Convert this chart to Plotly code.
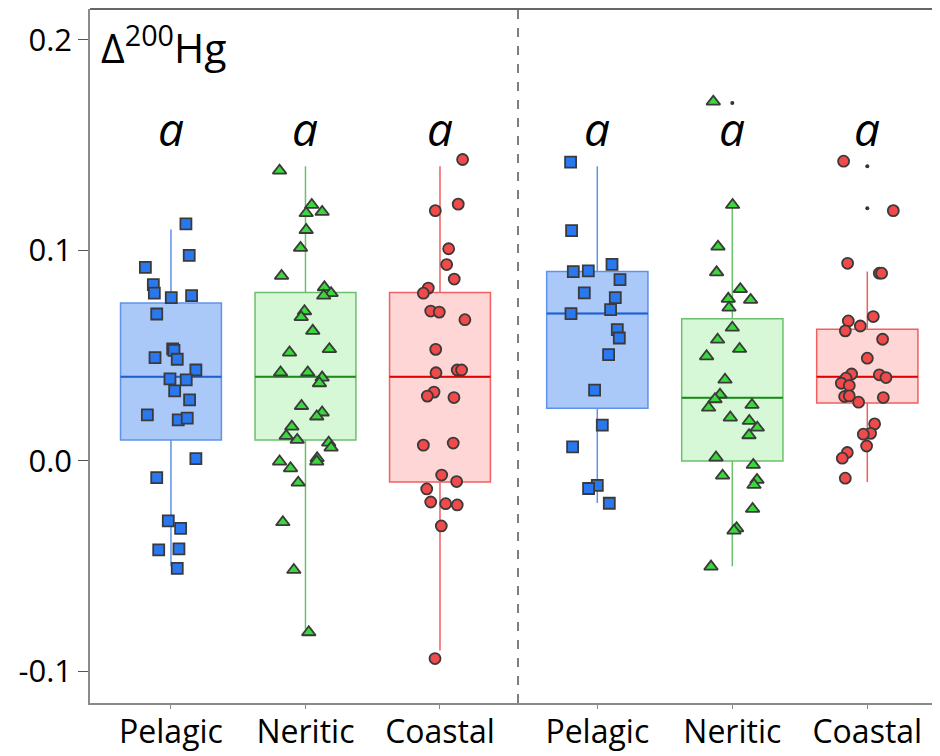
import plotly.graph_objects as go

categories = ["Pelagic", "Neritic", "Coastal"]
group_letters = ["a", "a", "a", "a", "a", "a"]
y_ticks = [-0.1, 0.0, 0.1, 0.2]
y_tick_labels = ["-0.1", "0.0", "0.1", "0.2"]

# ---- panel 1 (left) ----
p1_pelagic = [0.1126, 0.0977, 0.0920, 0.0838, 0.0797, 0.0776, 0.0785, 0.0698, 0.0532, 0.0525,
              0.0483, 0.0491, 0.0432, 0.0390, 0.0385, 0.0333, 0.0290, 0.0219, 0.0195, 0.0203,
              0.0011, -0.0079, -0.0285, -0.0320, -0.0423, -0.0418, -0.0510]
p1_pelagic_jit = [15, 18.3, -25.7, -17.7, -16.7, 0.3, 20.7, -14.3, 1.7, 3,
                  6.3, -16, 25, -1, 15.3, 3.7, 18.7, -23.7, 7.3, 16.3,
                  25, -14.3, -2.7, 9.7, -12.3, 8, 6.3]
p1_neritic = [0.1379, 0.1216, 0.1177, 0.1183, 0.1097, 0.1012, 0.0879, 0.0825, 0.0797, 0.0785,
              0.0711, 0.0683, 0.0618, 0.0515, 0.0531, 0.0420, 0.0420, 0.0396, 0.0369, 0.0261,
              0.0230, 0.0211, 0.0163, 0.0119, 0.0100, 0.0087, 0.0063, -0.0003, -0.0035, 0.0013,
              -0.0003, -0.0103, -0.0291, -0.0518, -0.0814]
p1_neritic_jit = [-26, 6.3, 0.7, 16.7, 0.7, -5, -24, 19, 25.7, 18.3,
                  -1, -4.3, 7.3, -16, 24, -25, 2.3, 16.7, 14, -4,
                  16.7, 11.3, -13.7, -19.3, -8.3, 23.3, 25.7, -26, -15, 11.7,
                  11.3, -7.3, -22.7, -11.7, 3.3]
p1_coastal = [0.1432, 0.1220, 0.1189, 0.1008, 0.0933, 0.0864, 0.0821, 0.0797, 0.0712, 0.0707,
              0.0671, 0.0530, 0.0419, 0.0432, 0.0432, 0.0327, 0.0308, 0.0301, 0.0075, 0.0085,
              -0.0067, -0.0098, -0.0133, -0.0195, -0.0203, -0.0209, -0.0309, -0.0939]
p1_coastal_jit = [22.7, 18.3, -4.7, 8.7, 6.7, 14.3, -11.7, -16.7, -9.3, -0.7,
                  25, -4.3, -4, 17.3, 21.7, -6, -12.7, 14, -16.7, 13.3,
                  1.7, 16.7, -13.3, -9.3, 5.7, 17.3, 1.3, -5]

# ---- panel 2 (right) ----
p2_pelagic = [0.1420, 0.1094, 0.0899, 0.0903, 0.0934, 0.0861, 0.0798, 0.0776, 0.0719, 0.0700,
              0.0624, 0.0584, 0.0505, 0.0336, 0.0170, 0.0067, -0.0116, -0.0131, -0.0201]
p2_pelagic_jit = [-26.7, -25.7, -24, -9, 14.7, 22.7, -13, 18, 13.3, -26.3,
                  20, 22, 11.3, -2.7, 5, -24.7, 0, -8.7, 12]
p2_neritic = [0.1707, 0.1216, 0.1018, 0.0896, 0.0816, 0.0770, 0.0765, 0.0728, 0.0633, 0.0576,
              0.0532, 0.0497, 0.0386, 0.0315, 0.0293, 0.0253, 0.0266, 0.0206, 0.0190, 0.0158,
              0.0122, 0.0016, -0.0019, -0.0070, -0.0090, -0.0114, -0.0228, -0.0320, -0.0331, -0.0502]
p2_neritic_jit = [-19, 0.3, -14.3, -15.7, 8, -4, 18.3, -3.3, 0, -14.7,
                  7.3, -25.7, -7.3, -12.3, -17.3, -23.7, 19.7, -2, 17, 25,
                  16.7, -16.3, 21, -9.7, 24.7, 21.7, 20.3, 4.3, 1.7, -21.3]
p2_coastal = [0.1424, 0.1189, 0.0939, 0.0892, 0.0892, 0.0686, 0.0665, 0.0641, 0.0618, 0.0578,
              0.0488, 0.0413, 0.0409, 0.0396, 0.0393, 0.0369, 0.0358, 0.0306, 0.0309, 0.0301,
              0.0279, 0.0176, 0.0131, 0.0127, 0.0071, 0.0040, 0.0013, -0.0082]
p2_coastal_jit = [-23.7, 26, -19.7, 12, 14.3, 6, -19, -7, -22, 15.3,
                  0, -15.7, 12, 18.7, -21.3, -26, -18, -22.7, -18, 16,
                  -8.7, 7.3, 3.3, -4, -0.7, -20, -25, -22]

# box statistics (Pelagic, Neritic, Coastal)
p1_q1 = [0.010, 0.010, -0.010]
p1_median = [0.040, 0.040, 0.040]
p1_q3 = [0.075, 0.080, 0.080]
p1_lower = [-0.050, -0.080, -0.090]
p1_upper = [0.110, 0.140, 0.140]
p1_outliers = [[], [], []]

p2_q1 = [0.025, 0.000, 0.0275]
p2_median = [0.070, 0.030, 0.040]
p2_q3 = [0.090, 0.0675, 0.0625]
p2_lower = [-0.020, -0.050, -0.010]
p2_upper = [0.140, 0.122, 0.090]
p2_outliers = [[], [0.170], [0.140, 0.120]]

# ---- styles ----
PX_PER_UNIT = 135.0
BOX_W = 0.75
marker_symbols = ["square", "triangle-up", "circle"]
marker_fill = ["#2a78f0", "#3ad83a", "#f04a4a"]
marker_size = [11, 12, 11]
box_fill = ["#aac8f8", "#d6f8d6", "#ffd6d6"]
box_line = ["#5f92e8", "#6cc06c", "#f06060"]
median_color = ["#1f5fcf", "#1e8a1e", "#e00000"]
FONT = "Open Sans"

fig = go.Figure()

panels = [
    ("x", [p1_pelagic, p1_neritic, p1_coastal], [p1_pelagic_jit, p1_neritic_jit, p1_coastal_jit],
     p1_q1, p1_median, p1_q3, p1_lower, p1_upper, p1_outliers),
    ("x2", [p2_pelagic, p2_neritic, p2_coastal], [p2_pelagic_jit, p2_neritic_jit, p2_coastal_jit],
     p2_q1, p2_median, p2_q3, p2_lower, p2_upper, p2_outliers),
]

for xa, vals, jits, q1, med, q3, lo, hi, outs in panels:
    for i in range(3):
        pos = i + 1
        fig.add_trace(go.Box(
            x=[pos], q1=[q1[i]], median=[med[i]], q3=[q3[i]],
            lowerfence=[lo[i]], upperfence=[hi[i]],
            width=BOX_W, whiskerwidth=0, boxpoints=False,
            fillcolor=box_fill[i], line=dict(color=box_line[i], width=1.5),
            xaxis=xa, yaxis="y", showlegend=False, hoverinfo="skip"))
        fig.add_trace(go.Scatter(
            x=[pos - BOX_W / 2, pos + BOX_W / 2], y=[med[i], med[i]], mode="lines",
            line=dict(color=median_color[i], width=2),
            xaxis=xa, yaxis="y", showlegend=False, hoverinfo="skip"))
        if outs[i]:
            fig.add_trace(go.Scatter(
                x=[pos] * len(outs[i]), y=outs[i], mode="markers",
                marker=dict(color="#333333", size=4),
                xaxis=xa, yaxis="y", showlegend=False))
        fig.add_trace(go.Scatter(
            x=[pos + j / PX_PER_UNIT for j in jits[i]], y=vals[i], mode="markers",
            marker=dict(symbol=marker_symbols[i], color=marker_fill[i],
                        size=marker_size[i],
                        line=dict(color="#3a3a3a", width=1.8)),
            xaxis=xa, yaxis="y", showlegend=False))

# letters above groups
for k, lab in enumerate(group_letters):
    fig.add_annotation(x=(k % 3) + 1, y=0.158, xref="x" if k < 3 else "x2", yref="y",
                       text=lab, showarrow=False,
                       font=dict(family=FONT, size=46, color="black", style="italic"))

# the page body offsets the figure by 8 px; plot area spans 90..940 x 8..703 on screen
split = 428.0 / 850.0
axis_common = dict(showgrid=False, zeroline=False, showline=True, linecolor="#8a8a8a",
                   linewidth=1.5, ticks="outside", ticklen=4, tickcolor="#8a8a8a",
                   tickvals=[1, 2, 3], ticktext=categories, automargin=False,
                   ticklabelstandoff=-4,
                   tickfont=dict(family=FONT, size=32, color="black"))
fig.update_layout(
    width=932, height=748,
    margin=dict(l=82, r=0, t=1, b=53),
    plot_bgcolor="white", paper_bgcolor="white",
    xaxis=dict(domain=[0, split], range=[0.398, 3.580], anchor="y", **axis_common),
    xaxis2=dict(domain=[split, 1], range=[0.4126, 3.5385], anchor="y", **axis_common),
    yaxis=dict(range=[-0.115, 0.2147], tickvals=y_ticks, ticktext=y_tick_labels,
               showgrid=False, zeroline=False, showline=True, linecolor="#8a8a8a",
               linewidth=1.5, ticks="outside", ticklen=10, tickcolor="#555555",
               automargin=False,
               tickfont=dict(family=FONT, size=31, color="black")),
    shapes=[
        dict(type="line", xref="paper", yref="paper", x0=0, x1=1, y0=1, y1=1,
             line=dict(color="#333333", width=1.5)),
        dict(type="line", xref="paper", yref="paper", x0=split, x1=split, y0=0, y1=1,
             line=dict(color="#555555", width=1.5, dash="dash")),
    ],
)

fig.add_annotation(xref="paper", yref="paper", x=0.01, y=1, xanchor="left", yanchor="top",
                   yshift=-4, text="Δ<sup>200</sup>Hg", showarrow=False,
                   font=dict(family=FONT, size=41, color="black"))

fig.write_html("out.html")
